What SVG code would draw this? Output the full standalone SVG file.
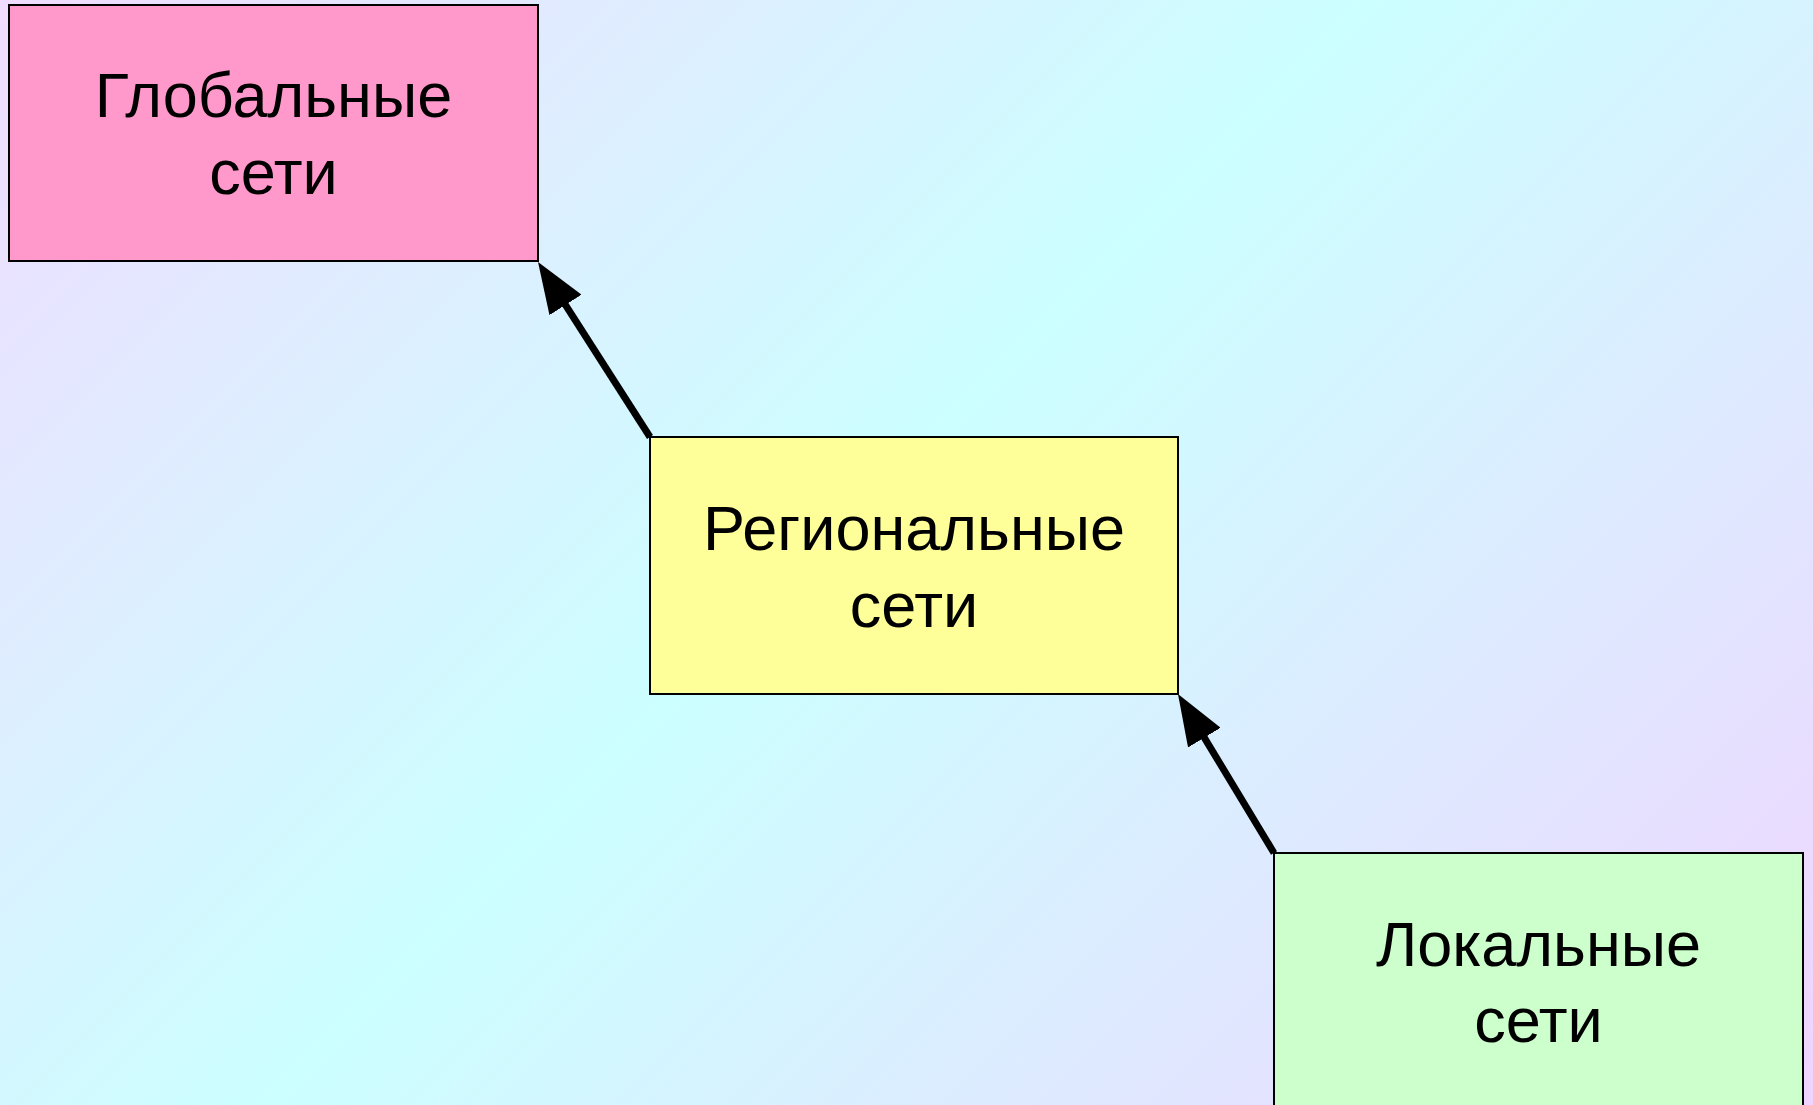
<svg xmlns="http://www.w3.org/2000/svg" width="1813" height="1105" viewBox="0 0 1813 1105">
  <style>
    .box { stroke: #000; stroke-width: 2; }
    .lbl { font-family: "Liberation Sans", Arial, sans-serif; font-size: 63px; fill: #000; text-anchor: middle; }
    .conn { stroke: #000; stroke-width: 7; fill: none; marker-end: url(#arrow); }
  </style>
  <defs>
    <linearGradient id="bg" gradientUnits="userSpaceOnUse" x1="0" y1="0" x2="1459" y2="1459">
      <stop offset="0" stop-color="#f0dcff"/>
      <stop offset="0.47" stop-color="#ccffff"/>
      <stop offset="1" stop-color="#f0d4ff"/>
    </linearGradient>
    <marker id="arrow" markerUnits="userSpaceOnUse" markerWidth="51" markerHeight="38" viewBox="0 0 51 38" refX="31" refY="19" orient="auto">
      <path d="M0,0 L51,19 L0,38 Z" fill="#000"/>
    </marker>
  </defs>
  <rect x="0" y="0" width="1813" height="1105" fill="url(#bg)"/>
  <g id="connectors">
    <line class="conn" x1="650" y1="437" x2="548.8" y2="278.8"/>
    <line class="conn" x1="1274" y1="853" x2="1188.3" y2="711.1"/>
  </g>
  <g id="global">
    <rect class="box" x="9" y="5" width="529" height="256" fill="#ff99cc"/>
    <text class="lbl" x="273.5" y="117">Глобальные</text>
    <text class="lbl" x="273.5" y="194">сети</text>
  </g>
  <g id="regional">
    <rect class="box" x="650" y="437" width="528" height="257" fill="#ffff99"/>
    <text class="lbl" x="914" y="550">Региональные</text>
    <text class="lbl" x="914" y="627">сети</text>
  </g>
  <g id="local">
    <rect class="box" x="1274" y="853" width="529" height="257" fill="#ccffcc"/>
    <text class="lbl" x="1538.5" y="966">Локальные</text>
    <text class="lbl" x="1538.5" y="1042">сети</text>
  </g>
</svg>
